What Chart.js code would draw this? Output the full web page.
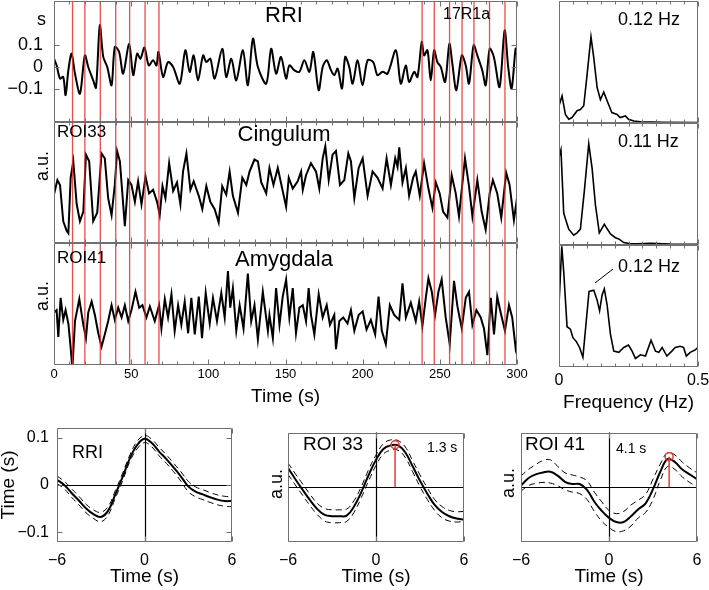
<!DOCTYPE html>
<html>
<head>
<meta charset="utf-8">
<script src="https://cdn.jsdelivr.net/npm/chart.js@4.4.1/dist/chart.umd.min.js"></script>
<style>
  body { margin: 0; background: #fff; }
  #fig { position: relative; width: 709px; height: 590px; overflow: hidden; font-family: 'Liberation Sans', Arial, sans-serif; color: #000; }
  #fig canvas { position: absolute; }
  .t { position: absolute; line-height: 1; white-space: nowrap; }
  .c { transform: translateX(-50%); }
  .v { position: absolute; line-height: 1; white-space: nowrap; transform: translate(-50%, -50%) rotate(-90deg); }
</style>
</head>
<body>
<div id="fig">
  <canvas id="cRri" width="540" height="124" style="left:0;top:0"></canvas>
  <canvas id="cCin" width="540" height="124" style="left:0;top:121px"></canvas>
  <canvas id="cAmy" width="540" height="168" style="left:0;top:242px"></canvas>
  <canvas id="cS1" width="161" height="125" style="left:548px;top:0"></canvas>
  <canvas id="cS2" width="161" height="125" style="left:548px;top:122px"></canvas>
  <canvas id="cS3" width="161" height="174" style="left:548px;top:244px"></canvas>
  <canvas id="cX1" width="240" height="163" style="left:0;top:427px"></canvas>
  <canvas id="cX2" width="192" height="163" style="left:280px;top:427px"></canvas>
  <canvas id="cX3" width="196" height="163" style="left:513px;top:427px"></canvas>

  <div class="t" style="left:37px;top:10px;font-size:18px">s</div>
  <div class="t c" style="left:284px;top:4px;font-size:22px">RRI</div>
  <div class="t" style="left:443px;top:6px;font-size:16px">17R1a</div>
  <div class="t" style="left:57px;top:123px;font-size:17px">ROI33</div>
  <div class="t c" style="left:284px;top:123px;font-size:22px">Cingulum</div>
  <div class="t" style="left:57px;top:249px;font-size:17px">ROI41</div>
  <div class="t c" style="left:284px;top:248px;font-size:22px">Amygdala</div>
  <div class="v" style="left:42px;top:166px;font-size:18px">a.u.</div>
  <div class="v" style="left:42px;top:296px;font-size:18px">a.u.</div>

  <div class="t" style="left:618px;top:10px;font-size:18px">0.12 Hz</div>
  <div class="t" style="left:618px;top:132px;font-size:18px">0.11 Hz</div>
  <div class="t" style="left:618px;top:257px;font-size:18px">0.12 Hz</div>
  <svg style="position:absolute;left:0;top:0" width="709" height="590">
    <line x1="595" y1="283" x2="613" y2="269" stroke="#000" stroke-width="1"/>
  </svg>

  <div class="t" style="left:72px;top:443px;font-size:18px">RRI</div>
  <div class="t" style="left:303px;top:434px;font-size:19px">ROI 33</div>
  <div class="t" style="left:525px;top:434px;font-size:19px">ROI 41</div>
  <div class="t" style="left:427px;top:440px;font-size:14px">1.3 s</div>
  <div class="t" style="left:616px;top:441px;font-size:14px">4.1 s</div>
  <div class="v" style="left:7px;top:485px;font-size:19px">Time (s)</div>
  <div class="v" style="left:276px;top:484px;font-size:18px">a.u.</div>
  <div class="v" style="left:508px;top:483px;font-size:18px">a.u.</div>
</div>

<script>
// ---------- data ----------

// event markers (s)
const eventTimes = [12, 20, 30, 40, 49, 59, 68, 238.5, 246.4, 256.3, 264.4, 272.1, 282.2, 292.2];

// RRI time series (s)
const rriT = [0,1.7,3.9,6,7.5,9.3,11.4,13.6,16.8,20,22.2,25.4,27.2,29.7,31.9,34.5,37.3,39.4,42.2,44.8,48.7,51.3,53.9,56,58.6,61.4,64.2,66.4,67.7,70.7,73.9,77.2,81.5,85.1,87.9,90.5,93.3,96.6,98.7,101.3,104.1,109,111.6,114.9,118.1,122.4,125.6,128.9,132.1,137.5,140.7,143.9,147.1,150.4,152.5,155.8,159,162.2,165.5,168,171.5,174.1,176.7,179.5,181.6,183.8,186.6,188.7,191.3,193.5,196.7,199.9,203.2,206.8,209.6,212.9,216.1,221.5,224.7,227.9,230.1,233.4,235.5,238.3,239.8,242,244.1,246.3,248.4,250.6,253.4,256.2,258.1,260.7,264.2,266.8,268.9,271.9,274.3,277.5,279.7,282.3,285,288.7,292,294.3,296.5,299.1,300];
const rriV = [0.037,0.007,-0.052,-0.045,-0.127,-0.015,0.06,-0.03,-0.12,0.052,0,-0.06,-0.093,0.187,0.045,0,-0.082,0.09,0.067,-0.03,0.104,-0.037,0.06,0.037,0.087,0.007,0.03,0.007,0.067,-0.045,0.022,0,-0.075,0.075,-0.022,0.052,-0.06,0.052,0.022,0.037,-0.052,0.082,-0.045,0.037,-0.06,0.075,-0.082,0.127,0,-0.075,0.082,-0.03,0.045,-0.052,0.007,-0.015,-0.022,0.03,-0.022,0.067,-0.104,0,0.03,-0.015,-0.037,-0.007,-0.097,0.045,0,-0.075,0.03,-0.082,0.03,0.022,-0.037,-0.022,-0.03,0.075,-0.075,0.007,-0.067,-0.022,-0.045,0.112,0.052,0.075,-0.06,0.075,0.022,0,-0.067,0.104,0.015,-0.104,0.052,0.007,-0.075,0.097,0.052,-0.015,-0.082,0.082,0.045,-0.09,0.164,0,-0.097,0.082,0.06];
const rriTicks = [-0.1, 0, 0.1];

// Cingulum (ROI33), a.u.
const cinT = [0,2.2,3.9,6,8.2,9.3,10.8,12.5,14.7,16.8,19,20.7,22.8,25.4,28,30.8,32.9,35.1,37.3,39.4,40.9,42.7,45.9,48.1,50.2,52.4,54.5,56.7,59.3,61.6,64.2,66.8,68.5,70.3,72.2,74.6,77.2,79.7,81.9,83.6,85.8,88.4,90.5,93.8,96.1,98.7,101.3,104.1,106.7,109,111.6,113.8,115.9,119.2,122,124.6,126.7,129.9,132.1,134.3,137.5,139.6,142.2,145,148.2,150.4,152.1,154.7,157.9,160.1,161.2,163.3,166.5,169.8,171.9,174.1,175.8,178,180.5,182.7,185.3,188.1,190.7,192.4,194.6,197.4,200,203.2,206.4,209.6,212.9,215.5,218.3,221.1,222.6,223.7,225.8,228,230.1,232.7,234.4,237,239.8,242.6,245.2,247.4,249.9,252.1,254.9,257.7,260.3,262.4,266.3,268.9,271.1,274.3,277.1,279.7,282.3,284.4,287.2,289.8,293,295.2,298,300];
const cinV = [40,52,48,18,10,8,54,67.5,32,18,26,73,67.5,18,25,74,70,37,23,48,76,67.5,14,52,48,34,51,32,55,41,44,34,23,47,37,66,43,50,32,59,74,44,51,39,28,47,34,28,17,47,40,59,39,25,54,48,59,69,67.5,50,41,62,48,62,43,30,54,45,51,59,44,56,66,59,45,70,80,52,73,76,48,52,74,67.5,37,62,70,39,59,54,45,70,48,70,63,79,50,62,39,54,59,39,66,45,29,50,41,26,21,56,41,22,70,47,22,52,26,11,41,52,41,21,58,48,19,37];

// Amygdala (ROI41), a.u.
const amyT = [0,1.7,2.8,4.3,6,7.5,9.3,10.8,11.9,13.6,16.4,19,20.7,22.2,24.4,26.5,28.7,30.8,32.9,35.1,37.3,39.4,41.6,43.8,45.9,48.1,50.2,52.8,55.2,57.3,59.9,62.1,65.3,68.1,69.6,71.8,73.9,76.1,78.2,80.4,82.5,84.7,86.9,89,91.2,93.8,95.9,98.3,100.9,103,105.6,108.4,110.6,112.7,114.2,115.9,118.1,120.3,122.8,125.6,127.8,129.9,132.1,135.3,138.6,139.6,141.8,143.9,146.1,148.2,150.4,152.5,154.7,156.8,159,161.2,163.3,165,166.5,168.7,171.5,174.1,176.7,178.8,181.6,182.7,184.9,187.4,190.2,192.4,194.6,197.4,200,202.5,205.3,208.1,210.3,212.4,215,217.6,220.4,223.7,225.8,228,231.2,234.4,236.6,238.7,240.9,242.6,244.8,246.9,249.1,251.2,253.8,256.4,259.2,261.4,264.2,266.8,268.9,271.1,273.7,276.5,278.6,280.8,283,285.1,287.2,289.4,292.2,294.8,296.9,299.1,300];
const amyV = [43,45,23,55,37,45,34,14,-3,36,54,33,22,43,52,41,26,15,25,36,49,37,47,39,49,36,45,60,47,49,39,48,36,49,30,54,39,58,28,49,33,52,26,55,25,56,22,59,34,55,36,59,39,77,47,63,28,49,30,75,36,49,21,60,28,41,22,63,33,56,70,39,63,26,47,49,36,63,41,25,58,39,49,33,41,13,36,39,34,45,28,41,44,29,37,25,56,28,17,49,41,37,67,39,51,36,52,32,55,71,60,41,60,70,39,17,69,48,30,55,60,33,45,39,30,8,55,25,56,43,28,49,39,14,20];

// spectra (Hz, relative power)
const s1F = [0,0.011,0.023,0.035,0.047,0.065,0.077,0.089,0.1,0.115,0.125,0.137,0.149,0.161,0.173,0.19,0.209,0.22,0.239,0.25,0.269,0.293,0.376,0.5];
const s1P = [14,22,7,3,4.4,10,11,14,37,70,53,29,19,25,18,8.5,7,4.4,5.7,3,1.6,1,0.5,0.3];
const s2F = [0,0.007,0.017,0.035,0.053,0.065,0.077,0.091,0.107,0.119,0.131,0.145,0.163,0.185,0.203,0.215,0.233,0.257,0.28,0.33,0.4,0.5];
const s2P = [72,78,26,13,8,10,13,44,83,63,33,10,17,9,6,5,2,1,1,1.4,0.8,0.5];
const s3F = [0,0.01,0.017,0.029,0.041,0.05,0.062,0.074,0.086,0.098,0.108,0.125,0.137,0.146,0.155,0.163,0.173,0.185,0.197,0.215,0.233,0.25,0.263,0.275,0.293,0.311,0.331,0.347,0.359,0.371,0.388,0.406,0.418,0.436,0.448,0.458,0.472,0.49,0.5];
const s3P = [51,99,78,33,31,24,21,16,8,37.5,62,63,55,46,59,64,51,27,13,12,16,18,13,7,10,9,22,13,12,16,9,13,16,17,16,9,12,14,16];

// cross-correlations vs lag (s): mean and confidence bounds
const lags = [-6,-5.5,-5,-4.5,-4,-3.5,-3,-2.5,-2,-1.5,-1,-0.5,0,0.5,1,1.5,2,2.5,3,3.5,4,4.5,5,5.5,6];
const lagTicks = [-6, 0, 6];
const x1Mean = [0.011,0,-0.017,-0.033,-0.05,-0.062,-0.068,-0.055,-0.02,0.017,0.057,0.085,0.098,0.089,0.071,0.055,0.037,0.018,-0.003,-0.014,-0.02,-0.026,-0.031,-0.034,-0.034];
const x1Hi = [0.019,0.008,-0.008,-0.024,-0.041,-0.053,-0.058,-0.046,-0.012,0.025,0.064,0.093,0.105,0.097,0.08,0.064,0.046,0.028,0.008,-0.004,-0.01,-0.016,-0.021,-0.024,-0.025];
const x1Lo = [0.003,-0.008,-0.026,-0.042,-0.059,-0.071,-0.078,-0.064,-0.028,0.009,0.05,0.077,0.09,0.081,0.062,0.046,0.028,0.008,-0.014,-0.025,-0.031,-0.037,-0.042,-0.045,-0.046];
const x1Ticks = [-0.1, 0, 0.1];
const x2Mean = [0.6,0.25,-0.08,-0.4,-0.68,-0.86,-0.9,-0.9,-0.88,-0.6,-0.15,0.38,0.85,1.19,1.3,1.3,1.08,0.65,0.2,-0.2,-0.55,-0.77,-0.9,-0.97,-1.0];
const x2Hi = [0.75,0.42,0.1,-0.22,-0.5,-0.66,-0.7,-0.7,-0.68,-0.42,0.02,0.55,1.0,1.35,1.47,1.45,1.25,0.82,0.38,-0.02,-0.38,-0.6,-0.72,-0.76,-0.75];
const x2Lo = [0.4,0.07,-0.25,-0.57,-0.85,-1.05,-1.1,-1.1,-1.06,-0.78,-0.32,0.2,0.68,1.03,1.15,1.15,0.92,0.48,0.02,-0.38,-0.72,-0.95,-1.05,-1.08,-1.06];
const x3Mean = [0.05,0.28,0.4,0.46,0.48,0.36,0.17,0.1,0.1,-0.08,-0.45,-0.73,-0.95,-1.08,-1.08,-0.9,-0.68,-0.5,-0.06,0.48,0.88,0.78,0.55,0.4,0.25];
const x3Hi = [0.35,0.55,0.7,0.83,0.85,0.65,0.45,0.38,0.32,0.2,-0.15,-0.45,-0.72,-0.82,-0.75,-0.55,-0.4,-0.22,0.25,0.72,1.08,1.0,0.78,0.6,0.45];
const x3Lo = [-0.12,0.05,0.12,0.15,0.13,0.05,-0.08,-0.15,-0.2,-0.38,-0.75,-1.05,-1.25,-1.38,-1.35,-1.2,-0.95,-0.78,-0.38,0.22,0.65,0.55,0.32,0.15,0.02];
const peak33 = [1.3, 1.32];
const peak41 = [4.1, 0.95];

// ---------- frame, inward ticks, event lines, zero lines ----------
const framePlugin = {
  id: 'frame',
  beforeDatasetsDraw(chart, args, o) {
    if (!o.zero) return;
    const {ctx, chartArea: a, scales: {x, y}} = chart;
    const px = Math.round(x.getPixelForValue(0)) + 0.5;
    const py = Math.round(y.getPixelForValue(0)) + 0.5;
    ctx.save();
    ctx.strokeStyle = '#000';
    ctx.lineWidth = 1.2;
    ctx.beginPath();
    ctx.moveTo(px, a.top); ctx.lineTo(px, a.bottom);
    ctx.moveTo(a.left, py); ctx.lineTo(a.right, py);
    ctx.stroke();
    ctx.restore();
  },
  afterDatasetsDraw(chart, args, o) {
    const {ctx, chartArea: a, scales: {x, y}} = chart;
    const L = Math.round(a.left) + 0.5, R = Math.round(a.right) - 0.5;
    const T = Math.round(a.top) + 0.5, B = Math.round(a.bottom) - 0.5;
    ctx.save();
    if (o.events) {
      ctx.strokeStyle = 'rgba(232, 45, 45, 0.85)';
      ctx.lineWidth = 1.3;
      ctx.beginPath();
      o.events.forEach(t => {
        const p = x.getPixelForValue(t);
        ctx.moveTo(p, a.top); ctx.lineTo(p, a.bottom);
      });
      ctx.stroke();
    }
    ctx.strokeStyle = '#707070';
    ctx.lineWidth = 1;
    ctx.beginPath();
    ctx.rect(L, T, R - L, B - T);
    x.ticks.forEach(t => {
      const p = Math.round(x.getPixelForValue(t.value)) + 0.5;
      const n = t.label !== '' ? 5 : 3;
      ctx.moveTo(p, B); ctx.lineTo(p, B - n);
      ctx.moveTo(p, T); ctx.lineTo(p, T + n);
    });
    if (o.yTicks) {
      y.ticks.forEach(t => {
        const p = Math.round(y.getPixelForValue(t.value)) + 0.5;
        ctx.moveTo(L, p); ctx.lineTo(L + 5, p);
        ctx.moveTo(R, p); ctx.lineTo(R - 5, p);
      });
    }
    ctx.stroke();
    ctx.restore();
  }
};

Chart.register(framePlugin);
Chart.defaults.font.family = "'Liberation Sans', Arial, sans-serif";
Chart.defaults.color = '#000';
Chart.defaults.animation = false;
Chart.defaults.responsive = false;
Chart.defaults.plugins.legend.display = false;
Chart.defaults.plugins.tooltip.enabled = false;
Chart.defaults.elements.point.radius = 0;
Chart.defaults.elements.line.tension = 0;

const minus = v => String(v).replace('-', '\u2212');
const pts = (xs, ys) => xs.map((x, i) => ({x: x, y: ys[i]}));
const timeLabel = v => (v % 50 === 0 ? String(v) : '');
const freqLabel = v => (Math.abs(v) < 1e-9 ? '0' : (Math.abs(v - 0.5) < 1e-9 ? '0.5' : ''));
const none = () => '';

function xAxis(o) {
  const ax = {
    type: 'linear', min: o.min, max: o.max,
    grid: {display: false, drawTicks: false}, border: {display: false},
    ticks: {display: !!o.show, stepSize: o.step, autoSkip: false, maxRotation: 0, minRotation: 0,
            padding: o.pad || 0, font: {size: o.size || 13}, color: '#000', callback: o.label},
    title: {display: !!o.title, text: o.title || '', font: {size: 19}, color: '#000',
            padding: {top: 0, bottom: o.tpad || 2}},
    afterFit: s => { s.height = o.h; s.paddingLeft = 0; s.paddingRight = 0; }
  };
  if (o.values) ax.afterBuildTicks = s => { s.ticks = o.values.map(v => ({value: v})); };
  return ax;
}

function yAxis(o) {
  const ax = {
    min: o.min, max: o.max,
    grid: {display: false, drawTicks: false}, border: {display: false},
    ticks: {display: !!o.show, padding: o.pad || 0, font: {size: o.size || 16}, color: '#000', callback: o.label || none},
    afterFit: s => { s.width = o.w; s.paddingTop = 0; s.paddingBottom = 0; }
  };
  if (o.values) ax.afterBuildTicks = s => { s.ticks = o.values.map(v => ({value: v})); };
  return ax;
}

function panel(id, datasets, x, y, pad, frame) {
  return new Chart(document.getElementById(id), {
    type: 'line',
    data: {datasets: datasets},
    options: {
      devicePixelRatio: 1,
      layout: {padding: pad},
      scales: {x: x, y: y},
      plugins: {frame: frame}
    }
  });
}

const trace = (xs, ys, w) => ({data: pts(xs, ys), borderColor: '#000', borderWidth: w});

// ---------- time series ----------
panel('cRri', [Object.assign(trace(rriT, rriV, 2), {tension: 0.3})],
  xAxis({min: 0, max: 300, step: 10, h: 2, label: timeLabel}),
  yAxis({min: -0.247, max: 0.296, w: 54, show: true, pad: 11, size: 18, values: rriTicks, label: minus}),
  {left: 0, right: 23, top: 1, bottom: 0},
  {events: eventTimes, yTicks: true});

panel('cCin', [trace(cinT, cinV, 2)],
  xAxis({min: 0, max: 300, step: 10, h: 2, label: timeLabel}),
  yAxis({min: 0, max: 100, w: 54}),
  {left: 0, right: 23, top: 1, bottom: 0},
  {events: eventTimes});

panel('cAmy', [trace(amyT, amyV, 2)],
  xAxis({min: 0, max: 300, step: 10, h: 45, show: true, pad: 2, size: 13, label: timeLabel, title: 'Time (s)', tpad: 2}),
  yAxis({min: 0, max: 100, w: 54}),
  {left: 0, right: 23, top: 1, bottom: 0},
  {events: eventTimes});

// ---------- spectra ----------
panel('cS1', [trace(s1F, s1P, 1.6)],
  xAxis({min: 0, max: 0.5, step: 0.05, h: 2, label: freqLabel}),
  yAxis({min: 0, max: 99, w: 11}),
  {left: 0, right: 11, top: 1, bottom: 0}, {});

panel('cS2', [trace(s2F, s2P, 1.6)],
  xAxis({min: 0, max: 0.5, step: 0.05, h: 2, label: freqLabel}),
  yAxis({min: 0, max: 100, w: 11}),
  {left: 0, right: 11, top: 1, bottom: 0}, {});

panel('cS3', [trace(s3F, s3P, 1.6)],
  xAxis({min: 0, max: 0.5, step: 0.05, h: 51, show: true, pad: 4, size: 16, label: freqLabel, title: 'Frequency (Hz)', tpad: 4}),
  yAxis({min: 0, max: 100, w: 11}),
  {left: 0, right: 11, top: 1, bottom: 0}, {});

// ---------- cross-correlations ----------
function xcSets(mean, hi, lo, peak) {
  const dash = ys => ({data: pts(lags, ys), borderColor: '#000', borderWidth: 1, borderDash: [6, 4], tension: 0.4, order: 2});
  const sets = [
    Object.assign(trace(lags, mean, 2), {tension: 0.4, order: 1}),
    dash(hi), dash(lo)
  ];
  if (peak) {
    sets.push({data: [{x: peak[0], y: 0}, {x: peak[0], y: peak[1]}], borderColor: '#e53935', borderWidth: 1.5,
      pointRadius: [0, 4], pointBorderColor: '#e53935', pointBackgroundColor: 'rgba(0,0,0,0)', pointBorderWidth: 1.5, order: 0});
  }
  return sets;
}

panel('cX1', xcSets(x1Mean, x1Hi, x1Lo),
  xAxis({min: -6, max: 6, h: 48, show: true, pad: 9, size: 16, values: lagTicks, label: minus, title: 'Time (s)', tpad: 2}),
  yAxis({min: -0.121, max: 0.121, w: 57, show: true, pad: 8, size: 16, values: x1Ticks, label: minus}),
  {left: 0, right: 8, top: 1, bottom: 0},
  {zero: true, yTicks: true});

panel('cX2', xcSets(x2Mean, x2Hi, x2Lo, peak33),
  xAxis({min: -6, max: 6, h: 48, show: true, pad: 9, size: 16, values: lagTicks, label: minus, title: 'Time (s)', tpad: 2}),
  yAxis({min: -1.7, max: 1.7, w: 8}),
  {left: 0, right: 8, top: 1, bottom: 0},
  {zero: true});

panel('cX3', xcSets(x3Mean, x3Hi, x3Lo, peak41),
  xAxis({min: -6, max: 6, h: 48, show: true, pad: 9, size: 16, values: lagTicks, label: minus, title: 'Time (s)', tpad: 2}),
  yAxis({min: -1.7, max: 1.7, w: 8}),
  {left: 0, right: 12, top: 1, bottom: 0},
  {zero: true});
</script>
</body>
</html>
